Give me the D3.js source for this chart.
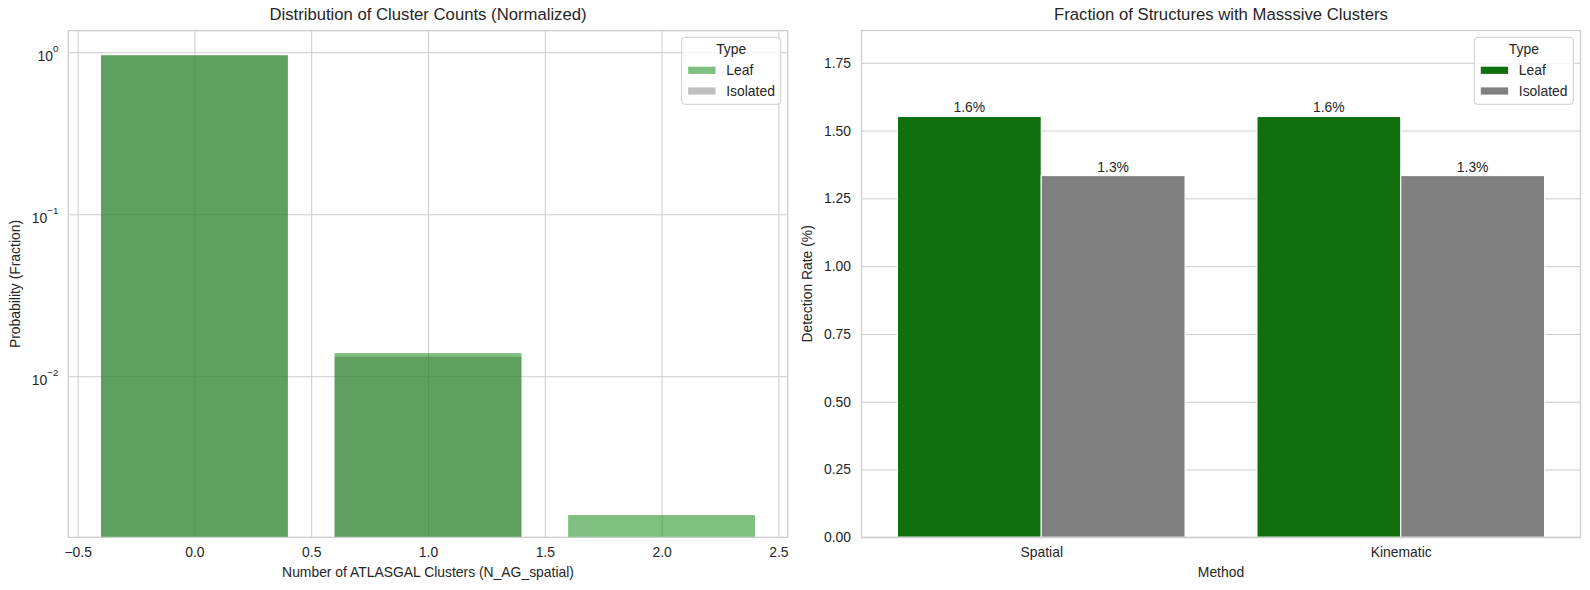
<!DOCTYPE html>
<html>
<head>
<meta charset="utf-8">
<script src="https://cdn.jsdelivr.net/npm/d3@7"></script>
<style>
  body { margin: 0; background: #fff; }
  text { font-family: "Liberation Sans", Arial, sans-serif; fill: #262626; }
</style>
</head>
<body>
<div id="chart"></div>
<script>
// ---- data ----
var countBins = [0, 1, 2];
var leafFrac = [0.958, 0.0139, 0.00139];
var isolatedFrac = [0.958, 0.0132, 0];

var methods = ["Spatial", "Kinematic"];
var leafRate = [1.552, 1.552];
var isolatedRate = [1.334, 1.334];

var types = ["Leaf", "Isolated"];
var leftXTicks = [-0.5, 0, 0.5, 1, 1.5, 2, 2.5];
var leftYTicks = [1, 0.1, 0.01];
var rightYTicks = [0, 0.25, 0.5, 0.75, 1, 1.25, 1.5, 1.75];

var svgWidth = 1590;
var svgHeight = 590;

var gridColor = "#cccccc";
var fontSize = 13.9;

var svg = d3.select("#chart")
  .append("svg")
  .attr("width", svgWidth)
  .attr("height", svgHeight);

// panel boxes (pixel positions of the axes)
var leftBox = { x0: 68.3, x1: 787.7, y0: 30.7, y1: 537.3 };
var rightBox = { x0: 861.5, x1: 1580.5, y0: 30.5, y1: 537.3 };

// ================= LEFT: histogram on log scale =================
var xLeft = d3.scaleLinear()
  .domain([-0.54, 2.54])
  .range([leftBox.x0, leftBox.x1]);

var yLeft = d3.scaleLog()
  .domain([Math.pow(10, -2.994), Math.pow(10, 0.133)])
  .range([leftBox.y1, leftBox.y0]);

var leftG = svg.append("g");

// grid lines
leftG.append("g")
  .attr("transform", `translate(0, ${leftBox.y1})`)
  .call(d3.axisBottom(xLeft).tickValues(leftXTicks).tickSize(-(leftBox.y1 - leftBox.y0)).tickFormat(""))
  .call(g => g.select(".domain").remove())
  .call(g => g.selectAll("line").attr("stroke", gridColor).attr("stroke-width", 1));

leftG.append("g")
  .attr("transform", `translate(${leftBox.x0}, 0)`)
  .call(d3.axisLeft(yLeft).tickValues(leftYTicks).tickSize(-(leftBox.x1 - leftBox.x0)).tickFormat(""))
  .call(g => g.select(".domain").remove())
  .call(g => g.selectAll("line").attr("stroke", gridColor).attr("stroke-width", 1));

// bars: isolated first, leaf drawn over it
var barW = 0.8;
var yBottom = yLeft.domain()[0];

function histBars(values, color) {
  leftG.append("g")
    .selectAll("rect")
    .data(countBins.filter((d, i) => values[i] > 0))
    .enter()
    .append("rect")
    .attr("x", d => xLeft(d - barW / 2))
    .attr("width", d => xLeft(d + barW / 2) - xLeft(d - barW / 2))
    .attr("y", d => yLeft(values[d]))
    .attr("height", d => yLeft(yBottom) - yLeft(values[d]))
    .attr("fill", color)
    .attr("fill-opacity", 0.5);
}
histBars(isolatedFrac, "#808080");
histBars(leafFrac, "#008000");

// tick labels
leftG.append("g")
  .attr("transform", `translate(0, ${leftBox.y1})`)
  .call(d3.axisBottom(xLeft).tickValues(leftXTicks).tickSize(0).tickPadding(9.5).tickFormat(d3.format(".1f")))
  .call(g => g.select(".domain").remove())
  .call(g => g.selectAll("text").style("font-size", fontSize + "px").attr("fill", "#262626"));

var yLeftAxis = leftG.append("g")
  .attr("transform", `translate(${leftBox.x0}, 0)`)
  .call(d3.axisLeft(yLeft).tickValues(leftYTicks).tickSize(0).tickPadding(10).tickFormat(""))
  .call(g => g.select(".domain").remove());

yLeftAxis.selectAll(".tick text")
  .attr("dy", "8.6px")
  .style("font-size", fontSize + "px")
  .attr("fill", "#262626")
  .each(function(d) {
    var t = d3.select(this);
    var exp = Math.round(Math.log10(d));
    t.text("10");
    t.append("tspan")
      .attr("dy", -9)
      .style("font-size", "9.7px")
      .text(exp < 0 ? "\u2212" + (-exp) : String(exp));
  });

// spines
leftG.append("rect")
  .attr("x", leftBox.x0)
  .attr("y", leftBox.y0)
  .attr("width", leftBox.x1 - leftBox.x0)
  .attr("height", leftBox.y1 - leftBox.y0)
  .attr("fill", "none")
  .attr("stroke", gridColor)
  .attr("stroke-width", 1.25);

// titles and labels
leftG.append("text")
  .attr("x", (leftBox.x0 + leftBox.x1) / 2)
  .attr("y", 19.5)
  .attr("text-anchor", "middle")
  .style("font-size", "16.7px")
  .text("Distribution of Cluster Counts (Normalized)");

leftG.append("text")
  .attr("x", (leftBox.x0 + leftBox.x1) / 2)
  .attr("y", 576.5)
  .attr("text-anchor", "middle")
  .style("font-size", fontSize + "px")
  .text("Number of ATLASGAL Clusters (N_AG_spatial)");

leftG.append("text")
  .attr("transform", `translate(19.5, ${(leftBox.y0 + leftBox.y1) / 2}) rotate(-90)`)
  .attr("text-anchor", "middle")
  .style("font-size", fontSize + "px")
  .text("Probability (Fraction)");

// ================= RIGHT: grouped bars =================
var xRight = d3.scaleLinear()
  .domain([-0.5, methods.length - 0.5])
  .range([rightBox.x0, rightBox.x1]);

var yRight = d3.scaleLinear()
  .domain([0, 1.869])
  .range([rightBox.y1, rightBox.y0]);

var rightG = svg.append("g");

rightG.append("g")
  .attr("transform", `translate(${rightBox.x0}, 0)`)
  .call(d3.axisLeft(yRight).tickValues(rightYTicks).tickSize(-(rightBox.x1 - rightBox.x0)).tickFormat(""))
  .call(g => g.select(".domain").remove())
  .call(g => g.selectAll("line").attr("stroke", gridColor).attr("stroke-width", 1));

var rateSeries = [
  { type: "Leaf", values: leafRate, color: "#107010", offset: -0.4 },
  { type: "Isolated", values: isolatedRate, color: "#808080", offset: 0 }
];

rateSeries.forEach(function(s) {
  rightG.append("g")
    .selectAll("rect")
    .data(methods)
    .enter()
    .append("rect")
    .attr("x", (d, i) => xRight(i + s.offset))
    .attr("width", (d, i) => xRight(i + s.offset + 0.4) - xRight(i + s.offset))
    .attr("y", (d, i) => yRight(s.values[i]))
    .attr("height", (d, i) => yRight(0) - yRight(s.values[i]))
    .attr("fill", s.color)
    .attr("stroke", "#ffffff")
    .attr("stroke-width", 1.1);

  // value labels above bars
  rightG.append("g")
    .selectAll("text")
    .data(methods)
    .enter()
    .append("text")
    .attr("x", (d, i) => xRight(i + s.offset + 0.2))
    .attr("y", (d, i) => yRight(s.values[i]) - 4)
    .attr("text-anchor", "middle")
    .style("font-size", fontSize + "px")
    .text((d, i) => s.values[i].toFixed(1) + "%");
});

rightG.append("g")
  .attr("transform", `translate(0, ${rightBox.y1})`)
  .call(d3.axisBottom(xRight).tickValues(d3.range(methods.length)).tickSize(0).tickPadding(9.5).tickFormat(i => methods[i]))
  .call(g => g.select(".domain").remove())
  .call(g => g.selectAll("text").style("font-size", fontSize + "px").attr("fill", "#262626"));

rightG.append("g")
  .attr("transform", `translate(${rightBox.x0}, 0)`)
  .call(d3.axisLeft(yRight).tickValues(rightYTicks).tickSize(0).tickPadding(10.5).tickFormat(d3.format(".2f")))
  .call(g => g.select(".domain").remove())
  .call(g => g.selectAll("text").style("font-size", fontSize + "px").attr("fill", "#262626"));

rightG.append("rect")
  .attr("x", rightBox.x0)
  .attr("y", rightBox.y0)
  .attr("width", rightBox.x1 - rightBox.x0)
  .attr("height", rightBox.y1 - rightBox.y0)
  .attr("fill", "none")
  .attr("stroke", gridColor)
  .attr("stroke-width", 1.25);

rightG.append("text")
  .attr("x", (rightBox.x0 + rightBox.x1) / 2)
  .attr("y", 19.5)
  .attr("text-anchor", "middle")
  .style("font-size", "16.7px")
  .text("Fraction of Structures with Masssive Clusters");

rightG.append("text")
  .attr("x", (rightBox.x0 + rightBox.x1) / 2)
  .attr("y", 576.5)
  .attr("text-anchor", "middle")
  .style("font-size", fontSize + "px")
  .text("Method");

rightG.append("text")
  .attr("transform", `translate(812, ${(rightBox.y0 + rightBox.y1) / 2}) rotate(-90)`)
  .attr("text-anchor", "middle")
  .style("font-size", fontSize + "px")
  .text("Detection Rate (%)");

// ================= legends =================
function drawLegend(x, colors, opacity) {
  var lg = svg.append("g").attr("transform", `translate(${x}, 37.3)`);
  lg.append("rect")
    .attr("width", 99)
    .attr("height", 67)
    .attr("rx", 3)
    .attr("fill", "#ffffff")
    .attr("fill-opacity", 0.8)
    .attr("stroke", gridColor)
    .attr("stroke-width", 1);
  lg.append("text")
    .attr("x", 49.5)
    .attr("y", 17)
    .attr("text-anchor", "middle")
    .style("font-size", fontSize + "px")
    .text("Type");
  types.forEach(function(t, i) {
    var cy = 33 + i * 20.7;
    lg.append("rect")
      .attr("x", 6.5)
      .attr("y", cy - 3.6)
      .attr("width", 27.3)
      .attr("height", 7.2)
      .attr("fill", colors[i])
      .attr("fill-opacity", opacity);
    lg.append("text")
      .attr("x", 44.5)
      .attr("y", cy + 5)
      .style("font-size", fontSize + "px")
      .text(t);
  });
}
drawLegend(681.7, ["#008000", "#808080"], 0.5);
drawLegend(1474.3, ["#107010", "#808080"], 1);
</script>
</body>
</html>
